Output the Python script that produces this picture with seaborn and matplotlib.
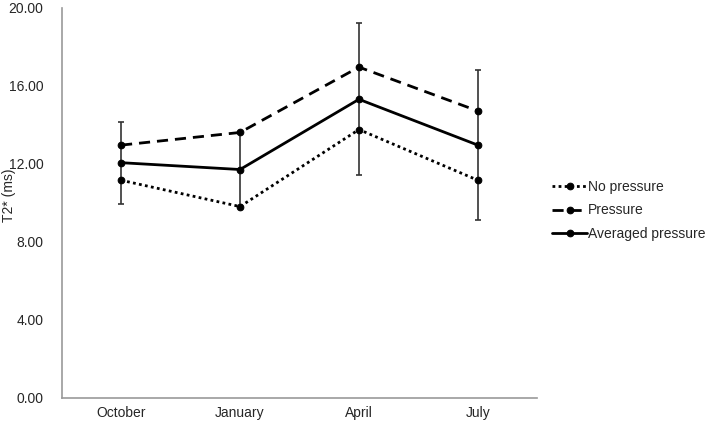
import pandas as pd
import numpy as np
import seaborn as sns
import matplotlib.pyplot as plt

months = ["October", "January", "April", "July"]
no_pressure = [11.15, 9.8, 13.75, 11.15]
pressure = [12.95, 13.6, 16.95, 14.7]
averaged = [12.05, 11.7, 15.3, 12.95]
averaged_err = [2.1, 1.9, 3.9, 3.85]
series_names = ["No pressure", "Pressure", "Averaged pressure"]

df = pd.DataFrame({
    "Month": months * 3,
    "T2": no_pressure + pressure + averaged,
    "Series": [s for s in series_names for _ in months],
})
df["x"] = df["Month"].map({m: i for i, m in enumerate(months)})

sns.set_style("white")
plt.rcParams["font.family"] = ["Liberation Sans", "DejaVu Sans"]

fig = plt.figure(figsize=(7.08, 4.24), dpi=100)
ax = fig.add_axes([0.087, 0.062, 0.672, 0.92])

# error bars on the averaged series
ax.errorbar(range(len(months)), averaged, yerr=averaged_err, fmt="none",
            ecolor="#333333", elinewidth=1.2, capsize=2.5, capthick=1.2, zorder=1)

sns.lineplot(data=df, x="x", y="T2", hue="Series", style="Series",
             palette=["black"] * 3,
             dashes={"No pressure": (1, 1.2), "Pressure": (4, 2.5), "Averaged pressure": ""},
             markers={s: "o" for s in series_names}, markersize=4.8,
             markeredgecolor="black", linewidth=2, ax=ax, zorder=3)

ax.set_xlim(-0.5, 3.5)
ax.set_ylim(0, 20)
ax.set_xticks(range(len(months)))
ax.set_xticklabels(months, fontsize=10)
ax.set_yticks([0, 4, 8, 12, 16, 20])
ax.set_yticklabels([f"{v:.2f}" for v in [0, 4, 8, 12, 16, 20]], fontsize=10)
ax.tick_params(axis="y", length=0, pad=13)
ax.tick_params(axis="x", length=0, pad=6)
ax.set_xlabel("")
ax.set_ylabel("T2* (ms)", fontsize=10, va="center")
ax.yaxis.set_label_coords(-0.111, 0.52)
for side in ["top", "right"]:
    ax.spines[side].set_visible(False)
for side in ["left", "bottom"]:
    ax.spines[side].set_color("#999999")
    ax.spines[side].set_linewidth(1.2)

ax.legend(loc="center left", bbox_to_anchor=(1.005, 0.48), frameon=False,
          fontsize=10, handlelength=2.5, handletextpad=0.1, labelspacing=0.7)

fig.savefig("out.png", dpi=100)
